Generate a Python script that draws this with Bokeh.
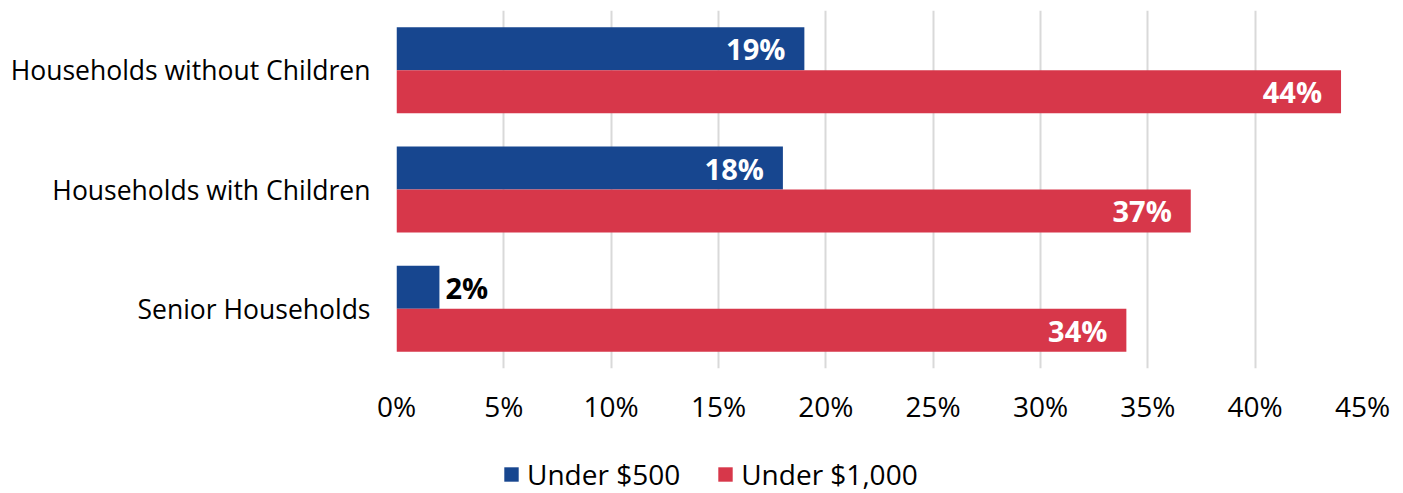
from bokeh.plotting import figure
from bokeh.layouts import column
from bokeh.models import ColumnDataSource, FixedTicker, PrintfTickFormatter, Legend, LegendItem
from bokeh.transform import dodge
from bokeh.core.properties import value
from bokeh.embed import file_html
from bokeh.resources import INLINE

categories = ["Households without Children", "Households with Children", "Senior Households"]
under_500 = [19, 18, 2]
under_1000 = [44, 37, 34]
series_names = ["Under $500", "Under $1,000"]
x_ticks = [0, 5, 10, 15, 20, 25, 30, 35, 40, 45]

BLUE = "#17468F"
RED = "#D7374A"
FONT = "Open Sans"

src = ColumnDataSource(dict(cat=categories, v500=under_500, v1000=under_1000))

p = figure(y_range=list(reversed(categories)), x_range=(0, 45),
           width=1403, height=440, output_backend="svg", toolbar_location=None,
           min_border_left=396, min_border_right=41, min_border_top=10, min_border_bottom=72)
p.outline_line_color = None
p.background_fill_color = "white"
p.border_fill_color = "white"

off = 0.18
bh = 0.36
r500 = p.hbar(y=dodge("cat", off, range=p.y_range), left=0, right="v500", height=bh,
              source=src, fill_color=BLUE, line_color=None)
r1000 = p.hbar(y=dodge("cat", -off, range=p.y_range), left=0, right="v1000", height=bh,
               source=src, fill_color=RED, line_color=None)

# value labels
def label_sources(vals):
    ins = dict(cat=[], v=[], t=[])
    outs = dict(cat=[], v=[], t=[])
    for c, v in zip(categories, vals):
        d = ins if v >= 5 else outs
        d["cat"].append(c); d["v"].append(v); d["t"].append(f"{v}%")
    return ColumnDataSource(ins), ColumnDataSource(outs)

for vals, dv in ((under_500, off), (under_1000, -off)):
    s_in, s_out = label_sources(vals)
    p.text(x="v", y=dodge("cat", dv, range=p.y_range), text="t", source=s_in,
           text_align="right", text_baseline="middle", x_offset=-19,
           text_color="white", text_font=value(FONT), text_font_style="bold",
           text_font_size="29px")
    p.text(x="v", y=dodge("cat", dv, range=p.y_range), text="t", source=s_out,
           text_align="left", text_baseline="middle", x_offset=6,
           text_color="black", text_font=value(FONT), text_font_style="bold",
           text_font_size="29px")

p.ygrid.grid_line_color = None
p.xgrid.grid_line_color = "#d9d9d9"
p.xgrid.grid_line_width = 2
p.xaxis.ticker = FixedTicker(ticks=x_ticks)
p.xaxis.formatter = PrintfTickFormatter(format="%d%%")

for ax in (p.xaxis, p.yaxis):
    ax.axis_line_color = None
    ax.major_tick_line_color = None
    ax.minor_tick_line_color = None
    ax.major_tick_out = 0
    ax.major_tick_in = 0
    ax.major_label_text_font = FONT
    ax.major_label_text_color = "black"

p.xaxis.major_label_text_font_size = "28px"
p.xaxis.major_label_standoff = 18
p.yaxis.major_label_text_font_size = "26.5px"
p.yaxis.major_label_standoff = 26
p.y_range.range_padding = 0

# legend strip below the chart (its bars have no area and lie outside its
# visible ranges; they only provide the legend swatches)
lg = figure(width=1403, height=53, output_backend="svg", toolbar_location=None,
            x_range=(1000, 1001), y_range=(1000, 1001),
            min_border_left=0, min_border_right=0, min_border_top=0, min_border_bottom=0)
lg.axis.visible = False
lg.grid.visible = False
lg.outline_line_color = None
lg.border_fill_color = "white"
d500 = lg.hbar(y="v500", right="v500", left="v500", height=0, source=src,
               fill_color=BLUE, line_color=None)
d1000 = lg.hbar(y="v1000", right="v1000", left="v1000", height=0, source=src,
                fill_color=RED, line_color=None)

legend = Legend(items=[LegendItem(label=series_names[0], renderers=[d500]),
                       LegendItem(label=series_names[1], renderers=[d1000])],
                orientation="horizontal", location=(106, 0),
                glyph_width=18, glyph_height=18, label_standoff=7, spacing=36,
                padding=0, margin=0, border_line_color=None, background_fill_alpha=0,
                label_text_font=FONT, label_text_font_size="28px", label_text_color="black")
lg.add_layout(legend)

layout = column(p, lg, spacing=0)
open("out.html", "w").write(file_html(layout, INLINE))
